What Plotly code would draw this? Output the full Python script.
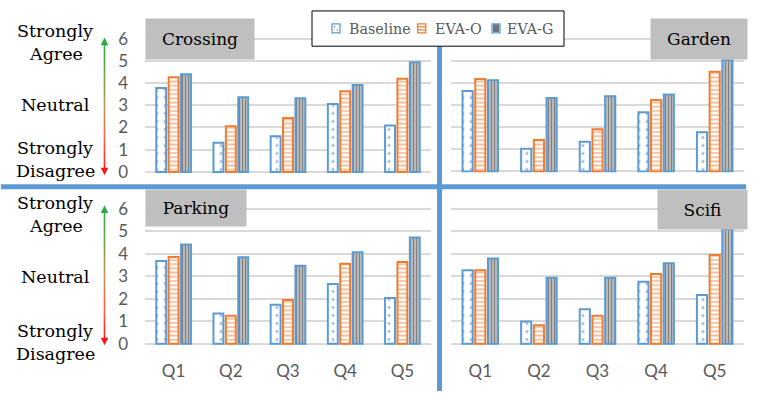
import plotly.graph_objects as go

# ---------------- data ----------------
questions = ["Q1", "Q2", "Q3", "Q4", "Q5"]
series_names = ["Baseline", "EVA-O", "EVA-G"]
panels = ["Crossing", "Garden", "Parking", "Scifi"]

crossing_baseline = [3.78, 1.31, 1.61, 3.06, 2.09]
crossing_evao = [4.26, 2.06, 2.43, 3.63, 4.19]
crossing_evag = [4.40, 3.36, 3.31, 3.91, 4.94]

garden_baseline = [3.63, 1.02, 1.34, 2.67, 1.77]
garden_evao = [4.18, 1.42, 1.90, 3.23, 4.50]
garden_evag = [4.12, 3.32, 3.40, 3.47, 5.02]

parking_baseline = [3.67, 1.35, 1.73, 2.66, 2.03]
parking_evao = [3.85, 1.25, 1.94, 3.55, 3.63]
parking_evag = [4.41, 3.84, 3.46, 4.06, 4.72]

scifi_baseline = [3.26, 0.99, 1.53, 2.76, 2.17]
scifi_evao = [3.26, 0.83, 1.25, 3.10, 3.94]
scifi_evag = [3.79, 2.93, 2.93, 3.58, 5.10]

y_ticks = [0, 1, 2, 3, 4, 5, 6]
scale_labels = ["Strongly", "Agree", "Neutral", "Strongly", "Disagree"]

# ---------------- layout helpers ----------------
W, H = 767, 400
BLUE = "#5B9BD5"
ORANGE = "#ED7D31"
GRID = "#D9D9D9"
TICK = "#595959"
SERIF = "DejaVu Serif"
SANS = "Lato"


def fx(px):
    return px / W


def fy(py):
    return 1 - py / H


panel_data = {
    "Crossing": [crossing_baseline, crossing_evao, crossing_evag],
    "Garden": [garden_baseline, garden_evao, garden_evag],
    "Parking": [parking_baseline, parking_evao, parking_evag],
    "Scifi": [scifi_baseline, scifi_evao, scifi_evag],
}

# pixel geometry: (x_left, x_right, y_of_zero, y_of_six)
geom = {
    "Crossing": (145, 431, 170.0, 30.0),
    "Garden": (451, 744, 169.5, 30.0),
    "Parking": (145, 431, 350.5, 208.5),
    "Scifi": (451, 744, 350.5, 208.5),
}
pad_units = 0.05

styles = [
    dict(color="white", line=dict(color=BLUE, width=2),
         pattern=dict(shape=".", fgcolor="#4472C4", size=8, solidity=0.12)),
    dict(color="white", line=dict(color=ORANGE, width=2),
         pattern=dict(shape="-", fgcolor=ORANGE, size=4.2, solidity=0.45)),
    dict(color="white", line=dict(color=BLUE, width=2),
         pattern=dict(shape="|", fgcolor="black", size=3, solidity=0.7)),
]

fig = go.Figure()
layout_axes = {}

for i, name in enumerate(panels):
    sfx = "" if i == 0 else str(i + 1)
    xl, xr, y0, y6 = geom[name]
    unit = (y0 - y6) / 6.0
    ybot = y0 + pad_units * unit
    ytop = y6 - pad_units * unit
    for j, sname in enumerate(series_names):
        fig.add_trace(go.Bar(
            x=questions, y=panel_data[name][j], name=sname,
            marker=styles[j], showlegend=False,
            xaxis="x" + sfx, yaxis="y" + sfx, hoverinfo="skip",
        ))
    bottom_row = name in ("Parking", "Scifi")
    left_col = name in ("Crossing", "Parking")
    layout_axes["xaxis" + sfx] = dict(
        domain=[fx(xl), fx(xr)], anchor="y" + sfx,
        type="category", categoryorder="array", categoryarray=questions,
        range=[-0.5, 4.5], showgrid=False, zeroline=False, showline=False,
        ticks="", showticklabels=bottom_row, ticklabelstandoff=14,
        tickfont=dict(family=SANS, size=17, color=TICK),
    )
    layout_axes["yaxis" + sfx] = dict(
        domain=[fy(ybot), fy(ytop)], anchor="x" + sfx,
        range=[-pad_units, 6 + pad_units], tickvals=y_ticks,
        showgrid=True, gridcolor=GRID, gridwidth=1.6, zeroline=False,
        showline=False, ticks="", showticklabels=left_col,
        ticklabelstandoff=16,
        tickfont=dict(family=SANS, size=17, color=TICK),
    )

fig.update_layout(**layout_axes)

shapes = []
annotations = []

# separators
shapes.append(dict(type="line", xref="paper", yref="paper",
                   x0=fx(1), x1=fx(746), y0=fy(185.5), y1=fy(185.5),
                   line=dict(color=BLUE, width=5), layer="above"))
shapes.append(dict(type="line", xref="paper", yref="paper",
                   x0=fx(439.5), x1=fx(439.5), y0=fy(38), y1=fy(400),
                   line=dict(color=BLUE, width=5), layer="above"))

# legend frame
shapes.append(dict(type="rect", xref="paper", yref="paper",
                   x0=fx(312), x1=fx(564), y0=fy(1), y1=fy(38),
                   line=dict(color="black", width=1), fillcolor="white",
                   layer="above"))

# legend keys (symbol centre x, text start x)
legend_keys = [(336.0, 347.0), (421.7, 433.0), (496.0, 505.0)]
LY0, LY1 = 14.5, 24.0
for j, (cx, tx) in enumerate(legend_keys):
    x0, x1 = cx - 4, cx + 4
    edge = ORANGE if j == 1 else BLUE
    shapes.append(dict(type="rect", xref="paper", yref="paper",
                       x0=fx(x0), x1=fx(x1), y0=fy(LY0), y1=fy(LY1),
                       line=dict(color=edge, width=1.3), fillcolor="white",
                       layer="above"))
    if j == 0:
        for (dx, dy) in [(-1.5, 17.5), (1.5, 21.0)]:
            shapes.append(dict(type="rect", xref="paper", yref="paper",
                               x0=fx(cx + dx - 0.6), x1=fx(cx + dx + 0.6),
                               y0=fy(dy - 0.6), y1=fy(dy + 0.6),
                               line=dict(width=0), fillcolor="#4472C4",
                               layer="above"))
    elif j == 1:
        for yy in [17.7, 20.9]:
            shapes.append(dict(type="line", xref="paper", yref="paper",
                               x0=fx(x0), x1=fx(x1), y0=fy(yy), y1=fy(yy),
                               line=dict(color=ORANGE, width=1.2),
                               layer="above"))
    else:
        for xx in [cx - 2.0, cx, cx + 2.0]:
            shapes.append(dict(type="line", xref="paper", yref="paper",
                               x0=fx(xx), x1=fx(xx), y0=fy(LY0 + 0.8),
                               y1=fy(LY1 - 0.8),
                               line=dict(color="black", width=1.1),
                               layer="above"))
    annotations.append(dict(text=series_names[j], x=fx(tx), y=fy(19.5),
                            xref="paper", yref="paper", showarrow=False,
                            xanchor="left", yanchor="middle",
                            font=dict(family=SERIF, size=14.3, color=TICK)))


# gradient arrows (green top -> red bottom)
def lerp(a, b, t):
    return tuple(int(round(a[k] + (b[k] - a[k]) * t)) for k in range(3))


stops = [(0.0, (40, 170, 70)), (0.5, (190, 150, 80)),
         (0.8, (245, 90, 60)), (1.0, (255, 20, 20))]


def grad_color(t):
    for k in range(len(stops) - 1):
        t0, c0 = stops[k]
        t1, c1 = stops[k + 1]
        if t <= t1:
            return lerp(c0, c1, (t - t0) / (t1 - t0))
    return stops[-1][1]


AX = 104.5
for (tip_top, tip_bot) in [(29.0, 173.5), (205.0, 352.0)]:
    head = 8.0
    s0, s1 = tip_top + head - 1, tip_bot - head + 1
    n = 40
    for k in range(n):
        ya = s0 + (s1 - s0) * k / n
        yb = s0 + (s1 - s0) * (k + 1) / n
        c = grad_color((k + 0.5) / n)
        shapes.append(dict(type="line", xref="paper", yref="paper",
                           x0=fx(AX), x1=fx(AX), y0=fy(ya), y1=fy(yb + 0.3),
                           line=dict(color="rgb(%d,%d,%d)" % c, width=1.6)))
    ct = grad_color(0.0)
    cb = grad_color(1.0)
    shapes.append(dict(type="path", xref="paper", yref="paper",
                       path="M %f %f L %f %f L %f %f Z" % (
                           fx(AX), fy(tip_top), fx(AX - 3.8), fy(tip_top + head),
                           fx(AX + 3.8), fy(tip_top + head)),
                       fillcolor="rgb(%d,%d,%d)" % ct, line=dict(width=0)))
    shapes.append(dict(type="path", xref="paper", yref="paper",
                       path="M %f %f L %f %f L %f %f Z" % (
                           fx(AX), fy(tip_bot), fx(AX - 3.8), fy(tip_bot - head),
                           fx(AX + 3.8), fy(tip_bot - head)),
                       fillcolor="rgb(%d,%d,%d)" % cb, line=dict(width=0)))

# left scale labels
label_pos = [
    [(55, 22), (56, 46), (56, 100), (55, 145), (56, 169)],
    [(55, 203), (56, 227), (56, 280), (55, 337), (56, 361)],
]
for row in label_pos:
    for txt, (px, py) in zip(scale_labels, row):
        annotations.append(dict(text=txt, x=fx(px), y=fy(py), xref="paper",
                                yref="paper", showarrow=False,
                                xanchor="center", yanchor="middle",
                                font=dict(family=SERIF, size=17.5, color="black")))

# panel title boxes (left, top, right, bottom)
title_boxes = {
    "Crossing": (145, 8, 253, 48),
    "Garden": (650, 8, 746, 48),
    "Parking": (145, 188, 245, 224),
    "Scifi": (657, 188, 746, 227),
}
for name in panels:
    l, t, r, b = title_boxes[name]
    annotations.append(dict(text=name, x=fx(l), y=fy(t), xref="paper",
                            yref="paper", showarrow=False, xanchor="left",
                            yanchor="top", width=r - l, height=b - t,
                            align="center", valign="middle", borderpad=0,
                            bgcolor="#BFBFBF",
                            font=dict(family=SERIF, size=17, color="black")))

fig.update_layout(
    width=W, height=H, autosize=False,
    margin=dict(l=0, r=0, t=0, b=0),
    paper_bgcolor="white", plot_bgcolor="white",
    barmode="group", bargap=0.35, bargroupgap=0.2,
    shapes=shapes, annotations=annotations,
    showlegend=False,
)

page_fix = (
    "var h=document.documentElement, b=document.body;"
    "[h,b].forEach(function(e){e.style.margin='0';e.style.padding='0';"
    "e.style.overflow='hidden';});"
    "var g=document.getElementById('{plot_id}');"
    "if(g&&g.parentNode){g.parentNode.style.margin='0';g.parentNode.style.padding='0';}"
    "window.scrollTo(0,0);"
)

fig.write_html("out.html", config={"displayModeBar": False},
               post_script=page_fix)
